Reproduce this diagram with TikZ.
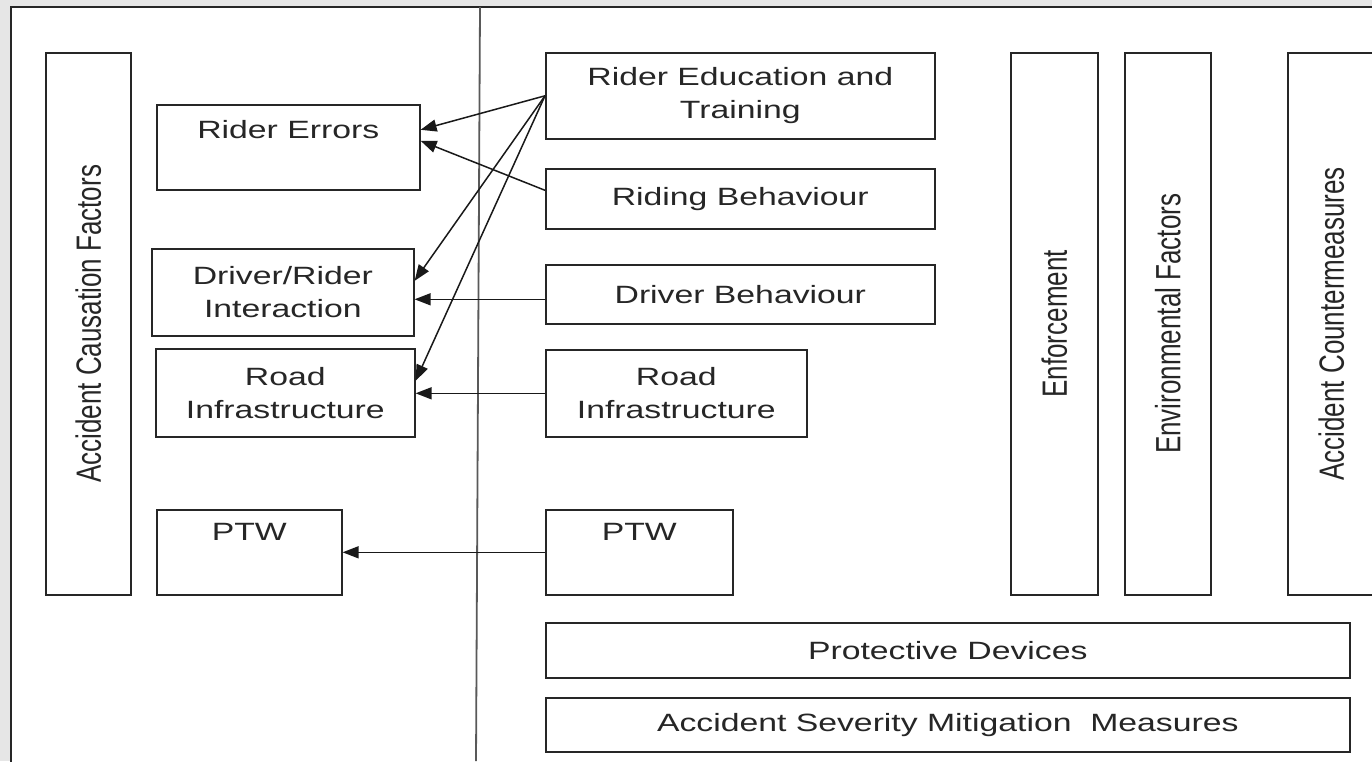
\documentclass[tikz,border=0pt]{standalone}
\usepackage{fontspec}
\setmainfont{Liberation Sans}
\usetikzlibrary{positioning,calc,arrows.meta}
\definecolor{bggray}{HTML}{E6E6E6}
\definecolor{ink}{HTML}{262626}
\newcommand{\hs}[1]{\scalebox{1.35}[1]{#1}}
\newcommand{\vs}[1]{\scalebox{1}[1.35]{#1}}
\tikzset{box/.style={draw=ink,line width=1.6pt,inner sep=0pt,anchor=north west,align=center,text=ink,font=\fontsize{25}{33}\selectfont}}
\tikzset{txt/.style={inner sep=0pt,text=ink,font=\fontsize{25}{33}\selectfont}}
\tikzset{vtxt/.style={inner sep=0pt,rotate=90,text=ink,font=\fontsize{26}{33}\selectfont}}
\tikzset{arr/.style={->,draw=black!90,line width=1.5pt}}
\tikzset{>={Triangle[length=16pt,width=12pt]}}

\begin{document}
\begin{tikzpicture}[x=1pt,y=-1pt]
	\useasboundingbox (0,0) rectangle (1372,761);
	\clip (0,0) rectangle (1372,761);
	\fill[bggray] (0,0) rectangle (1372,761);
	\draw[ink,line width=1.8pt,fill=white] (11,7) rectangle (1400,800);
	\draw[black!65,line width=1.8pt] (480,7) -- (476,761);

	% causation side
	\node[box,minimum width=85pt,minimum height=542pt] (acf) at (45,52) {};
	\node[vtxt] at (acf.center) {\vs{Accident Causation Factors}};
	\node[box,minimum width=263pt,minimum height=85pt] (re) at (156,104) {};
	\node[txt,anchor=base] at ([yshift=-34pt]re.north) {\hs{Rider Errors}};
	\node[box,minimum width=262pt,minimum height=87pt] (dri) at (151,248) {\hs{Driver/Rider}\\\hs{Interaction}};
	\node[box,minimum width=259pt,minimum height=88pt] (ril) at (155,348) {\hs{Road}\\\hs{Infrastructure}};
	\node[box,minimum width=185pt,minimum height=85pt] (ptwl) at (156,509) {};
	\node[txt,anchor=base] at ([yshift=-31pt]ptwl.north) {\hs{PTW}};

	% countermeasure side
	\node[box,minimum width=389pt,minimum height=86pt] (ret) at (545,52) {\hs{Rider Education and}\\\hs{Training}};
	\node[box,minimum width=389pt,minimum height=60pt] (rb) at (545,168) {\hs{Riding Behaviour}};
	\node[box,minimum width=389pt,minimum height=59pt] (db) at (545,264) {\hs{Driver Behaviour}};
	\node[box,minimum width=261pt,minimum height=87pt] (rir) at (545,349) {\hs{Road}\\\hs{Infrastructure}};
	\node[box,minimum width=187pt,minimum height=85pt] (ptwr) at (545,509) {};
	\node[txt,anchor=base] at ([yshift=-31pt]ptwr.north) {\hs{PTW}};

	\node[box,minimum width=87pt,minimum height=542pt] (enf) at (1010,52) {};
	\node[vtxt] at (enf.center) {\vs{Enforcement}};
	\node[box,minimum width=86pt,minimum height=542pt] (env) at (1124,52) {};
	\node[vtxt] at (env.center) {\vs{Environmental Factors}};
	\node[box,minimum width=87pt,minimum height=542pt] (acm) at (1287,52) {};
	\node[vtxt] at (acm.center) {\vs{Accident Countermeasures}};

	\node[box,minimum width=804pt,minimum height=55pt] (pd) at (545,622) {\hs{Protective Devices}};
	\node[box,minimum width=804pt,minimum height=54pt] (asmm) at (545,697) {\hs{Accident Severity Mitigation~ Measures}};

	% links
	\coordinate (dbw) at ([yshift=-5pt]db.west);
	\draw[arr] (ret.west) -- ([yshift=17.5pt]re.east);
	\draw[arr] ([yshift=8.5pt]rb.west) -- ([yshift=6.5pt]re.east);
	\draw[arr] (ret.west) -- ([yshift=11.5pt]dri.east);
	\draw[arr] (ret.west) -- ([yshift=12pt]ril.east);
	\draw[arr] (dbw) -- (dbw -| dri.east);
	\draw[arr] (rir.west) -- (rir.west -| ril.east);
	\draw[arr] (ptwr.west) -- (ptwr.west -| ptwl.east);
\end{tikzpicture}
\end{document}
